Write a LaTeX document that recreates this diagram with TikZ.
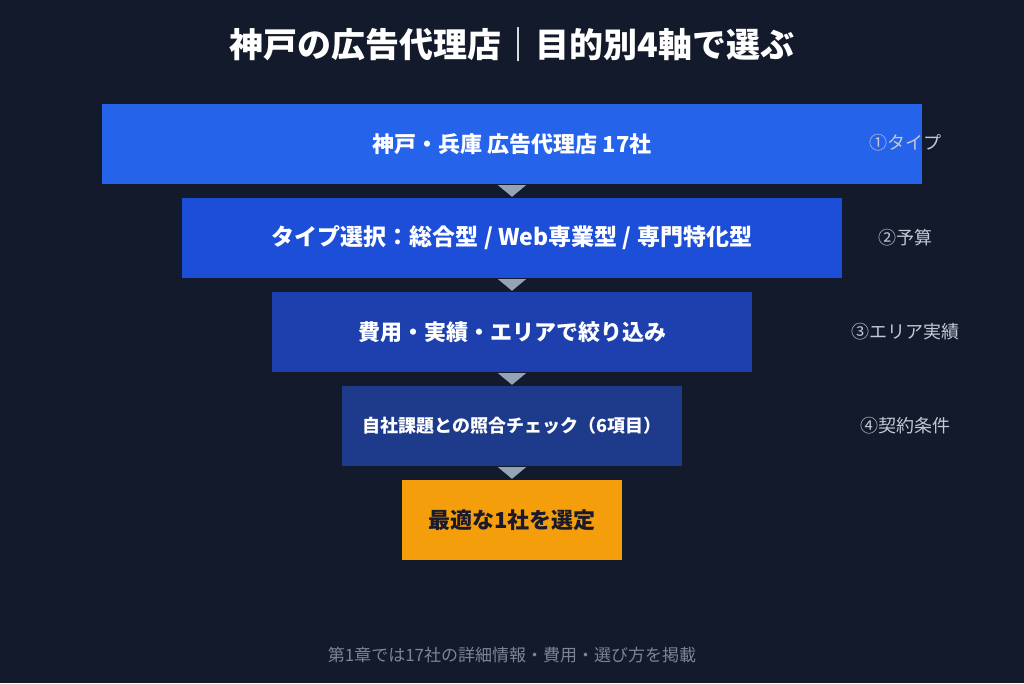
\documentclass[tikz,border=0pt]{standalone}
\usepackage{fontspec}
\setmainfont{Noto Sans CJK JP}
\usetikzlibrary{calc}
\definecolor{bg}{HTML}{131A2B}
\definecolor{c1}{HTML}{2563EB}
\definecolor{c2}{HTML}{1D4ED8}
\definecolor{c3}{HTML}{1E40AF}
\definecolor{c4}{HTML}{1E3A8A}
\definecolor{c5}{HTML}{F59E0B}
\definecolor{tri}{HTML}{94A3B8}
\definecolor{lab}{HTML}{C3C9D3}
\definecolor{foot}{HTML}{7C8496}
\definecolor{dark}{HTML}{1A1A2E}
\tikzset{
  bar/.style={minimum height=80pt, inner sep=0pt, text=white, font=\fontsize{22}{26}\selectfont\bfseries},
  sidelab/.style={text=lab, font=\fontsize{18}{21}\selectfont, inner sep=0pt},
  arrowtri/.style={fill=tri, draw=none}
}
\begin{document}
\begin{tikzpicture}[x=1pt,y=-1pt]
\fill[bg] (0,0) rectangle (1024,683);
\useasboundingbox (0,0) rectangle (1024,683);
\node[text=white, font=\fontsize{34}{40}\selectfont\bfseries] (title) at (512,45) {神戸の広告代理店｜目的別4軸で選ぶ};
\node[bar, fill=c1, minimum width=820pt] (b1) at (512,144) {神戸・兵庫 広告代理店 17社};
\node[bar, fill=c2, minimum width=660pt, font=\fontsize{23}{27}\selectfont\bfseries] (b2) at (512,238) {タイプ選択：総合型 / Web専業型 / 専門特化型};
\node[bar, fill=c3, minimum width=480pt] (b3) at (512,332) {費用・実績・エリアで絞り込み};
\node[bar, fill=c4, minimum width=340pt, font=\fontsize{18}{21}\selectfont\bfseries] (b4) at (512,426) {自社課題との照合チェック（6項目）};
\node[bar, fill=c5, minimum width=220pt, text=dark] (b5) at (512,520) {最適な1社を選定};
\foreach \a/\b in {b1/b2,b2/b3,b3/b4,b4/b5}{
  \fill[arrowtri] ($(\a.south)+(-14,1)$) -- ($(\a.south)+(14,1)$) -- ($(\b.north)+(0,-1)$) -- cycle;
}
\node[sidelab] (l1) at (905,143) {①タイプ};
\node[sidelab] (l2) at (905,238) {②予算};
\node[sidelab] (l3) at (905,332) {③エリア実績};
\node[sidelab] (l4) at (905,426) {④契約条件};
\node[text=foot, font=\fontsize{17}{20}\selectfont] (ft) at (512,655) {第1章では17社の詳細情報・費用・選び方を掲載};
\end{tikzpicture}
\end{document}
